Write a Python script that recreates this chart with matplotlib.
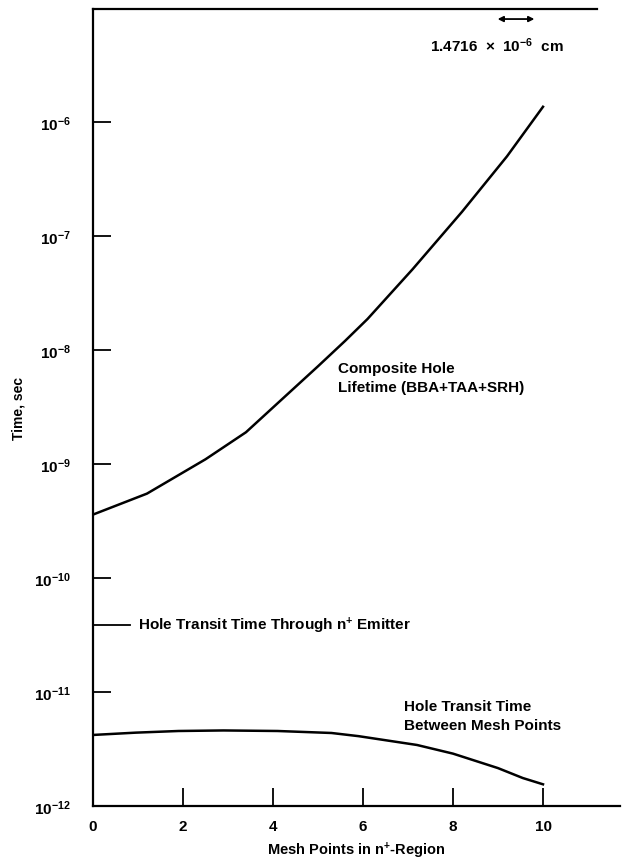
import matplotlib.pyplot as plt

# values
composite_x = [0, 1.2, 2.5, 3.4, 4.2, 5.0, 5.6, 6.1, 7.1, 8.2, 9.2, 10]
composite_t = [3.6e-10, 5.5e-10, 1.1e-9, 1.9e-9, 3.7e-9, 7.2e-9, 1.2e-8,
               1.87e-8, 5.1e-8, 1.63e-7, 5.0e-7, 1.36e-6]
mesh_x = [0, 0.95, 1.9, 2.9, 4.1, 5.3, 5.9, 7.2, 8.0, 9.0, 9.55, 10]
mesh_t = [4.2e-12, 4.4e-12, 4.55e-12, 4.6e-12, 4.55e-12, 4.37e-12, 4.1e-12,
          3.43e-12, 2.88e-12, 2.15e-12, 1.76e-12, 1.55e-12]
emitter_x = [0, 0.82]
emitter_t = [3.9e-11, 3.9e-11]
xticks = [0, 2, 4, 6, 8, 10]
yticks = [1e-12, 1e-11, 1e-10, 1e-9, 1e-8, 1e-7, 1e-6]
ytick_labels = ['$10^{-12}$', '$10^{-11}$', '$10^{-10}$', '$10^{-9}$',
                '$10^{-8}$', '$10^{-7}$', '$10^{-6}$']

plt.rcParams['font.family'] = ['Liberation Sans', 'DejaVu Sans']
plt.rcParams['font.weight'] = 'bold'
plt.rcParams['axes.labelweight'] = 'bold'
plt.rcParams['mathtext.fontset'] = 'custom'
plt.rcParams['mathtext.rm'] = 'Liberation Sans:bold'
plt.rcParams['mathtext.default'] = 'rm'

fig = plt.figure(figsize=(6.25, 8.62), dpi=100)
ax = fig.add_axes([0.1488, 0.0638, 0.8424, 0.9246])

ax.plot(composite_x, composite_t, color='black', lw=1.8)
ax.plot(mesh_x, mesh_t, color='black', lw=1.8)
ax.plot(emitter_x, emitter_t, color='black', lw=1.3)

ax.set_yscale('log')
ax.set_xlim(0, 11.7)
ax.set_ylim(1e-12, 9.8e-6)
ax.set_xticks(xticks)
ax.set_xticklabels([str(v) for v in xticks], fontsize=11)
ax.set_yticks(yticks)
ax.set_yticklabels(ytick_labels, fontsize=11)
ax.minorticks_off()
ax.tick_params(direction='in', length=13, width=1.3)
ax.tick_params(axis='x', pad=9)
ax.tick_params(axis='y', pad=16)

ax.spines['right'].set_visible(False)
ax.spines['top'].set_bounds(0, 11.2)
for s in ['left', 'bottom', 'top']:
    ax.spines[s].set_linewidth(1.6)

ax.set_xlabel('Mesh Points in n$^{+}$-Region', fontsize=10.5, labelpad=5)
ax.set_ylabel('Time, sec', fontsize=10, labelpad=6)

ax.annotate('', xy=(9.87, 8.0e-6), xytext=(8.93, 8.0e-6),
            arrowprops=dict(arrowstyle='<|-|>', color='black', lw=1.3,
                            mutation_scale=8))
ax.text(8.98, 4.8e-6, '1.4716  $\\times$  10$^{-6}$  cm', fontsize=11,
        ha='center', va='center')
ax.text(5.45, 5.7e-9, 'Composite Hole\nLifetime (BBA+TAA+SRH)', fontsize=11,
        ha='left', va='center', linespacing=1.45)
ax.text(1.0, 3.9e-11, 'Hole Transit Time Through n$^{+}$ Emitter', fontsize=11,
        ha='left', va='center')
ax.text(6.9, 6.2e-12, 'Hole Transit Time\nBetween Mesh Points', fontsize=11,
        ha='left', va='center', linespacing=1.45)

plt.savefig('out.png', dpi=100)
